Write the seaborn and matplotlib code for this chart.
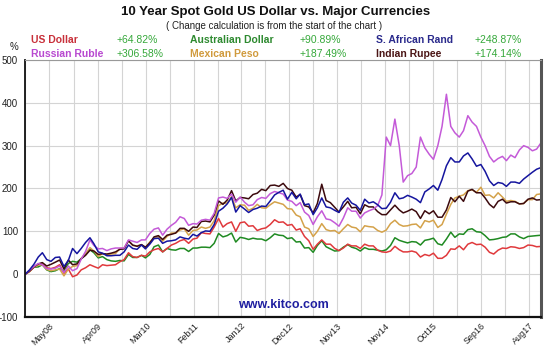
import numpy as np
import pandas as pd
import matplotlib
matplotlib.use("Agg")
import matplotlib.pyplot as plt
import seaborn as sns

# Monthly % change of the gold price in each currency, from the chart start (Nov 2007)
usd = [0, 6, 16, 22, 24, 15, 13, 16, 22, 2, 12, -6, -2, 10, 15, 22, 18, 14, 22, 20,
       21, 22, 29, 34, 50, 41, 39, 44, 42, 52, 57, 60, 52, 60, 68, 72, 78, 81, 72, 82,
       84, 97, 95, 94, 110, 130, 110, 118, 122, 100, 120, 122, 112, 113, 102, 106, 108, 116, 127, 121,
       122, 114, 116, 103, 106, 88, 78, 58, 70, 80, 70, 70, 60, 55, 61, 70, 66, 66, 60, 70,
       66, 66, 56, 52, 51, 54, 65, 57, 52, 52, 54, 51, 40, 46, 43, 49, 37, 37, 44, 59,
       58, 66, 57, 70, 74, 69, 70, 63, 51, 47, 56, 61, 60, 64, 63, 60, 62, 68, 67, 64,
       64.82]
aud = [0, 8, 16, 17, 22, 10, 6, 8, 13, 8, 25, 30, 28, 36, 46, 57, 50, 38, 41, 34,
       31, 30, 32, 31, 46, 39, 39, 44, 38, 46, 64, 68, 52, 60, 57, 56, 60, 60, 53, 61,
       61, 63, 63, 62, 72, 95, 87, 90, 96, 75, 86, 84, 81, 84, 82, 82, 78, 85, 94, 91,
       90, 83, 85, 75, 76, 61, 62, 51, 67, 78, 64, 59, 54, 55, 63, 69, 63, 60, 54, 62,
       58, 58, 56, 54, 57, 67, 85, 79, 76, 73, 76, 75, 68, 79, 81, 84, 71, 68, 82, 98,
       86, 94, 93, 104, 106, 99, 98, 90, 80, 81, 83, 86, 87, 94, 94, 87, 83, 88, 89, 90,
       90.89]
zar = [0, 10, 23, 40, 50, 34, 30, 39, 40, 18, 32, 60, 48, 60, 74, 85, 71, 52, 49, 43,
       43, 44, 44, 52, 68, 60, 58, 68, 59, 70, 83, 84, 72, 77, 78, 80, 87, 84, 82, 93,
       89, 97, 101, 100, 116, 147, 154, 164, 179, 145, 160, 152, 144, 151, 154, 159, 158, 171, 185, 191,
       196, 175, 191, 176, 187, 162, 164, 139, 155, 178, 157, 155, 149, 144, 168, 178, 166, 161, 149, 175,
       166, 169, 162, 153, 154, 168, 190, 176, 178, 184, 180, 175, 167, 192, 199, 207, 196, 221, 253, 272,
       262, 262, 276, 283, 269, 252, 256, 240, 218, 207, 214, 212, 205, 215, 215, 212, 222, 230, 238, 245,
       248.87]
rub = [0, 9, 18, 25, 22, 13, 12, 14, 19, 4, 19, 8, 13, 35, 53, 80, 67, 59, 60, 55,
       59, 61, 61, 61, 80, 77, 74, 80, 80, 95, 105, 108, 91, 105, 114, 121, 134, 130, 114, 118,
       117, 126, 128, 126, 142, 178, 180, 177, 187, 168, 180, 168, 160, 162, 174, 179, 177, 188, 193, 190,
       187, 173, 170, 160, 167, 145, 137, 116, 134, 148, 129, 127, 120, 112, 131, 155, 147, 147, 131, 143,
       148, 152, 160, 185, 320, 300, 362, 300, 215, 230, 235, 250, 320, 295, 280, 268, 300, 345, 420, 345,
       330, 320, 335, 370, 355, 345, 320, 300, 275, 262, 270, 275, 265, 278, 272, 290, 300, 296, 288, 292,
       306.58]
mxn = [0, 6, 17, 21, 22, 11, 8, 10, 12, -4, 12, 18, 20, 37, 48, 62, 54, 41, 48, 45,
       47, 48, 60, 61, 78, 67, 66, 69, 62, 75, 84, 88, 77, 88, 96, 96, 103, 106, 91, 102,
       103, 110, 107, 110, 125, 160, 166, 166, 181, 155, 162, 161, 149, 154, 163, 155, 154, 162, 169, 166,
       163, 153, 152, 138, 134, 110, 106, 88, 100, 118, 104, 101, 102, 95, 106, 116, 110, 108, 99, 113,
       111, 110, 102, 98, 103, 118, 126, 116, 112, 113, 116, 117, 108, 125, 122, 126, 109, 116, 140, 163,
       178, 182, 185, 195, 197, 191, 203, 184, 185, 178, 190, 180, 170, 172, 170, 164, 165, 174, 174, 186,
       187.49]
inr = [0, 7, 17, 24, 27, 19, 23, 28, 33, 12, 33, 22, 24, 36, 44, 56, 54, 46, 48, 47,
       49, 52, 58, 59, 78, 68, 65, 69, 63, 73, 87, 90, 81, 91, 93, 96, 107, 107, 100, 110,
       109, 123, 124, 122, 138, 171, 163, 173, 195, 171, 179, 178, 176, 186, 189, 198, 195, 207, 208, 205,
       212, 200, 196, 180, 186, 160, 157, 143, 165, 210, 172, 167, 156, 145, 157, 170, 155, 156, 141, 162,
       157, 157, 146, 139, 139, 150, 161, 150, 143, 147, 152, 146, 130, 148, 141, 148, 133, 133, 150, 179,
       169, 182, 170, 194, 198, 190, 190, 178, 163, 155, 170, 175, 166, 169, 169, 164, 165, 175, 178, 173,
       174.14]

series_names = ["Australian Dollar", "US Dollar", "Mexican Peso", "Indian Rupee",
                "Russian Ruble", "S. African Rand"]
series_values = [aud, usd, mxn, inr, rub, zar]
line_colors = {"US Dollar": "#e0393c", "Australian Dollar": "#1f8a22",
               "S. African Rand": "#15159e", "Russian Ruble": "#c45ad8",
               "Mexican Peso": "#d4a24a", "Indian Rupee": "#3c0a0e"}
label_colors = {"US Dollar": "#c8303a", "Australian Dollar": "#2e8a30",
                "S. African Rand": "#2a2a8c", "Russian Ruble": "#b848d0",
                "Mexican Peso": "#d09a3c", "Indian Rupee": "#4a1414"}

dates = pd.date_range("2007-11-15", periods=121, freq=pd.DateOffset(months=1))
frames = [pd.DataFrame({"date": dates, "pct": vals, "currency": name})
          for name, vals in zip(series_names, series_values)]
df = pd.concat(frames, ignore_index=True)

tick_labels = ["May08", "Apr09", "Mar10", "Feb11", "Jan12", "Dec12",
               "Nov13", "Nov14", "Oct15", "Sep16", "Aug17"]
tick_dates = pd.to_datetime(["2008-05-03", "2009-04-12", "2010-03-18", "2011-02-24",
                             "2012-01-21", "2012-12-27", "2013-11-28", "2014-11-06",
                             "2015-10-12", "2016-09-15", "2017-08-20"])

sns.set_style("white")
plt.rcParams["font.family"] = ["Liberation Sans", "DejaVu Sans"]

W, H = 550, 349
fig = plt.figure(figsize=(W / 100, H / 100), dpi=100)
ax = fig.add_axes([25 / W, 1 - 317 / H, (541 - 25) / W, (317 - 60) / H])

sns.lineplot(data=df, x="date", y="pct", hue="currency", palette=line_colors,
             hue_order=series_names, linewidth=1.1, legend=False, ax=ax)

ax.set_xlim(pd.Timestamp("2007-11-15"), pd.Timestamp("2017-11-15"))
ax.set_ylim(-100, 500)
ax.set_yticks(range(-100, 501, 100))
ax.set_yticklabels([str(v) for v in range(-100, 501, 100)], fontsize=7, color="#222")
ax.set_xticks(tick_dates)
ax.set_xticklabels(tick_labels, rotation=45, ha="right", rotation_mode="anchor",
                   fontsize=6.5, color="#222")
mids = tick_dates[:-1] + (tick_dates[1:] - tick_dates[:-1]) / 2
ax.set_xticks(list(mids) + [tick_dates[0] - (tick_dates[1] - tick_dates[0]) / 2], minor=True)
ax.tick_params(axis="y", which="major", length=3, width=0.8, color="#444", pad=2)
ax.tick_params(axis="x", which="major", length=2, width=0.8, color="#444", pad=1)
ax.tick_params(axis="x", which="minor", length=0)
ax.grid(True, which="both", color="#d4d4d4", linewidth=0.8)
ax.set_axisbelow(True)
ax.set_xlabel("")
ax.set_ylabel("")

for side, col, lw in [("left", "#111", 1.3), ("bottom", "#111", 1.6),
                      ("right", "#555", 2.2), ("top", "#999", 0.8)]:
    ax.spines[side].set_visible(True)
    ax.spines[side].set_color(col)
    ax.spines[side].set_linewidth(lw)

ax.text(0.5, 0.025, "www.kitco.com", transform=ax.transAxes, ha="center", va="bottom",
        fontsize=9, fontweight="bold", color="#1f1fa0")


def px(x, y):
    return x / W, 1 - y / H


fig.text(*px(276, 12), "10 Year Spot Gold US Dollar vs. Major Currencies",
         ha="center", va="center", fontsize=9.5, fontweight="bold", color="#111")
fig.text(*px(274, 26), "( Change calculation is from the start of the chart )",
         ha="center", va="center", fontsize=7, color="#222")
fig.text(*px(14, 47), "%", ha="center", va="center", fontsize=7, color="#222")

legend_rows = [
    [("US Dollar", "+64.82%"), ("Australian Dollar", "+90.89%"), ("S. African Rand", "+248.87%")],
    [("Russian Ruble", "+306.58%"), ("Mexican Peso", "+187.49%"), ("Indian Rupee", "+174.14%")],
]
name_x = [31, 190, 376]
pct_x = [117, 300, 475]
row_y = [40, 54]
for r, row in enumerate(legend_rows):
    for c, (name, pct) in enumerate(row):
        fig.text(*px(name_x[c], row_y[r]), name, ha="left", va="center",
                 fontsize=7.5, fontweight="bold", color=label_colors[name])
        fig.text(*px(pct_x[c], row_y[r]), pct, ha="left", va="center",
                 fontsize=7.5, color="#35a83a")

fig.savefig("out.png", dpi=100, facecolor="white")
